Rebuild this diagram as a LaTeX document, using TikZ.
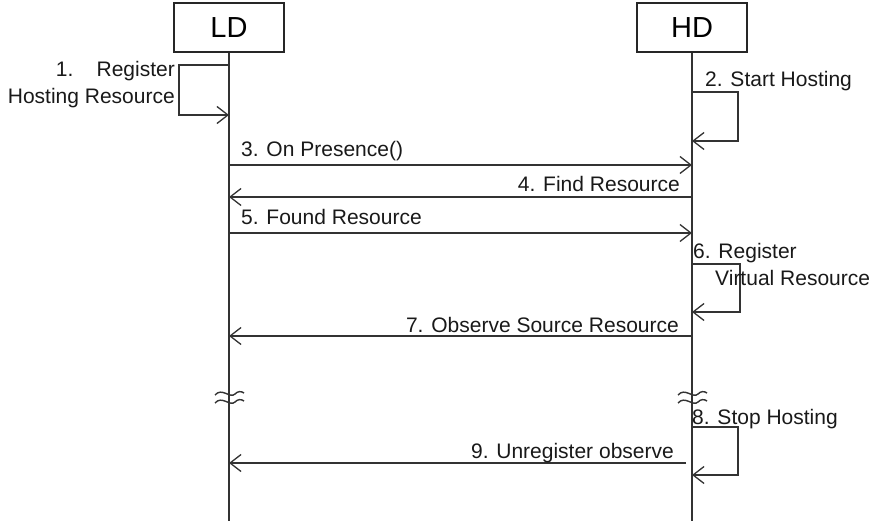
\documentclass[tikz,border=0pt]{standalone}
\usepackage{fontspec}
\setmainfont{Liberation Sans}
\usetikzlibrary{arrows.meta}
\begin{document}
\begin{tikzpicture}[x=1pt,y=-1pt,
  line/.style={draw=black!80, line width=1.3pt},
  msg/.style={line, -{Straight Barb[length=11pt,width=17pt,line width=1.3pt]}},
  actor/.style={draw=black!85, line width=1.3pt, minimum width=110pt, minimum height=49pt, inner sep=0pt, font=\fontsize{29}{32}\selectfont},
  lbl/.style={inner sep=0pt, font=\fontsize{21}{24}\selectfont, text=black!90},
  brk/.style={draw=black!80, line width=1.4pt}]
\useasboundingbox (0,0) rectangle (875,521);
\node[actor] (LD) at (229,27.5) {LD};
\node[actor] (HD) at (692,27.5) {HD};
\coordinate (LDend) at (229,521);
\coordinate (HDend) at (692,521);
\draw[line] (LD.south) -- (LDend);
\draw[line] (HD.south) -- (HDend);
% 1
\coordinate (a1) at (229,65); \coordinate (b1) at (179,65);
\coordinate (c1) at (179,115); \coordinate (d1) at (229,115);
\draw[msg] (a1) -- (b1) -- (c1) -- (d1);
\node[lbl, anchor=base east] (t1a) at (175,77) {1.\hspace{1.1em}Register};
\node[lbl, anchor=base east] (t1b) at (175,104) {Hosting Resource};
% 2
\coordinate (a2) at (692,92); \coordinate (b2) at (738,92);
\coordinate (c2) at (738,141); \coordinate (d2) at (692,141);
\draw[msg] (a2) -- (b2) -- (c2) -- (d2);
\node[lbl, anchor=base west] (t2) at (705,87) {2. Start Hosting};
% 3
\coordinate (a3) at (229,165); \coordinate (b3) at (692,165);
\draw[msg] (a3) -- (b3);
\node[lbl, anchor=base west] (t3) at (241,157) {3. On Presence()};
% 4
\coordinate (a4) at (692,197); \coordinate (b4) at (229,197);
\draw[msg] (a4) -- (b4);
\node[lbl, anchor=base east] (t4) at (680,192) {4. Find Resource};
% 5
\coordinate (a5) at (229,233); \coordinate (b5) at (692,233);
\draw[msg] (a5) -- (b5);
\node[lbl, anchor=base west] (t5) at (241,225) {5. Found Resource};
% 6
\coordinate (a6) at (692,264); \coordinate (b6) at (740,264);
\coordinate (c6) at (740,312); \coordinate (d6) at (692,312);
\draw[msg] (a6) -- (b6) -- (c6) -- (d6);
\node[lbl, anchor=base west] (t6a) at (693,259) {6. Register};
\node[lbl, anchor=base west] (t6b) at (715,285) {Virtual Resource};
% 7
\coordinate (a7) at (692,336); \coordinate (b7) at (229,336);
\draw[msg] (a7) -- (b7);
\node[lbl, anchor=base east] (t7) at (679,332) {7. Observe Source Resource};
% breaks
\foreach \xx/\nm in {229/L,692/H}{
  \draw[brk] (\xx-14,395) .. controls (\xx-7,387) and (\xx+1,399) .. (\xx+6,394) .. controls (\xx+9,391) and (\xx+12,391) .. (\xx+15,393);
  \draw[brk] (\xx-14,403) .. controls (\xx-7,395) and (\xx+1,407) .. (\xx+6,402) .. controls (\xx+9,399) and (\xx+12,399) .. (\xx+15,401);
}
% 8
\coordinate (a8) at (692,427); \coordinate (b8) at (738,427);
\coordinate (c8) at (738,475); \coordinate (d8) at (692,475);
\draw[msg] (a8) -- (b8) -- (c8) -- (d8);
\node[lbl, anchor=base west] (t8) at (692,424) {8. Stop Hosting};
% 9
\coordinate (a9) at (686,463); \coordinate (b9) at (229,463);
\draw[msg] (a9) -- (b9);
\node[lbl, anchor=base east] (t9) at (674,458) {9. Unregister observe};
\end{tikzpicture}
\end{document}
